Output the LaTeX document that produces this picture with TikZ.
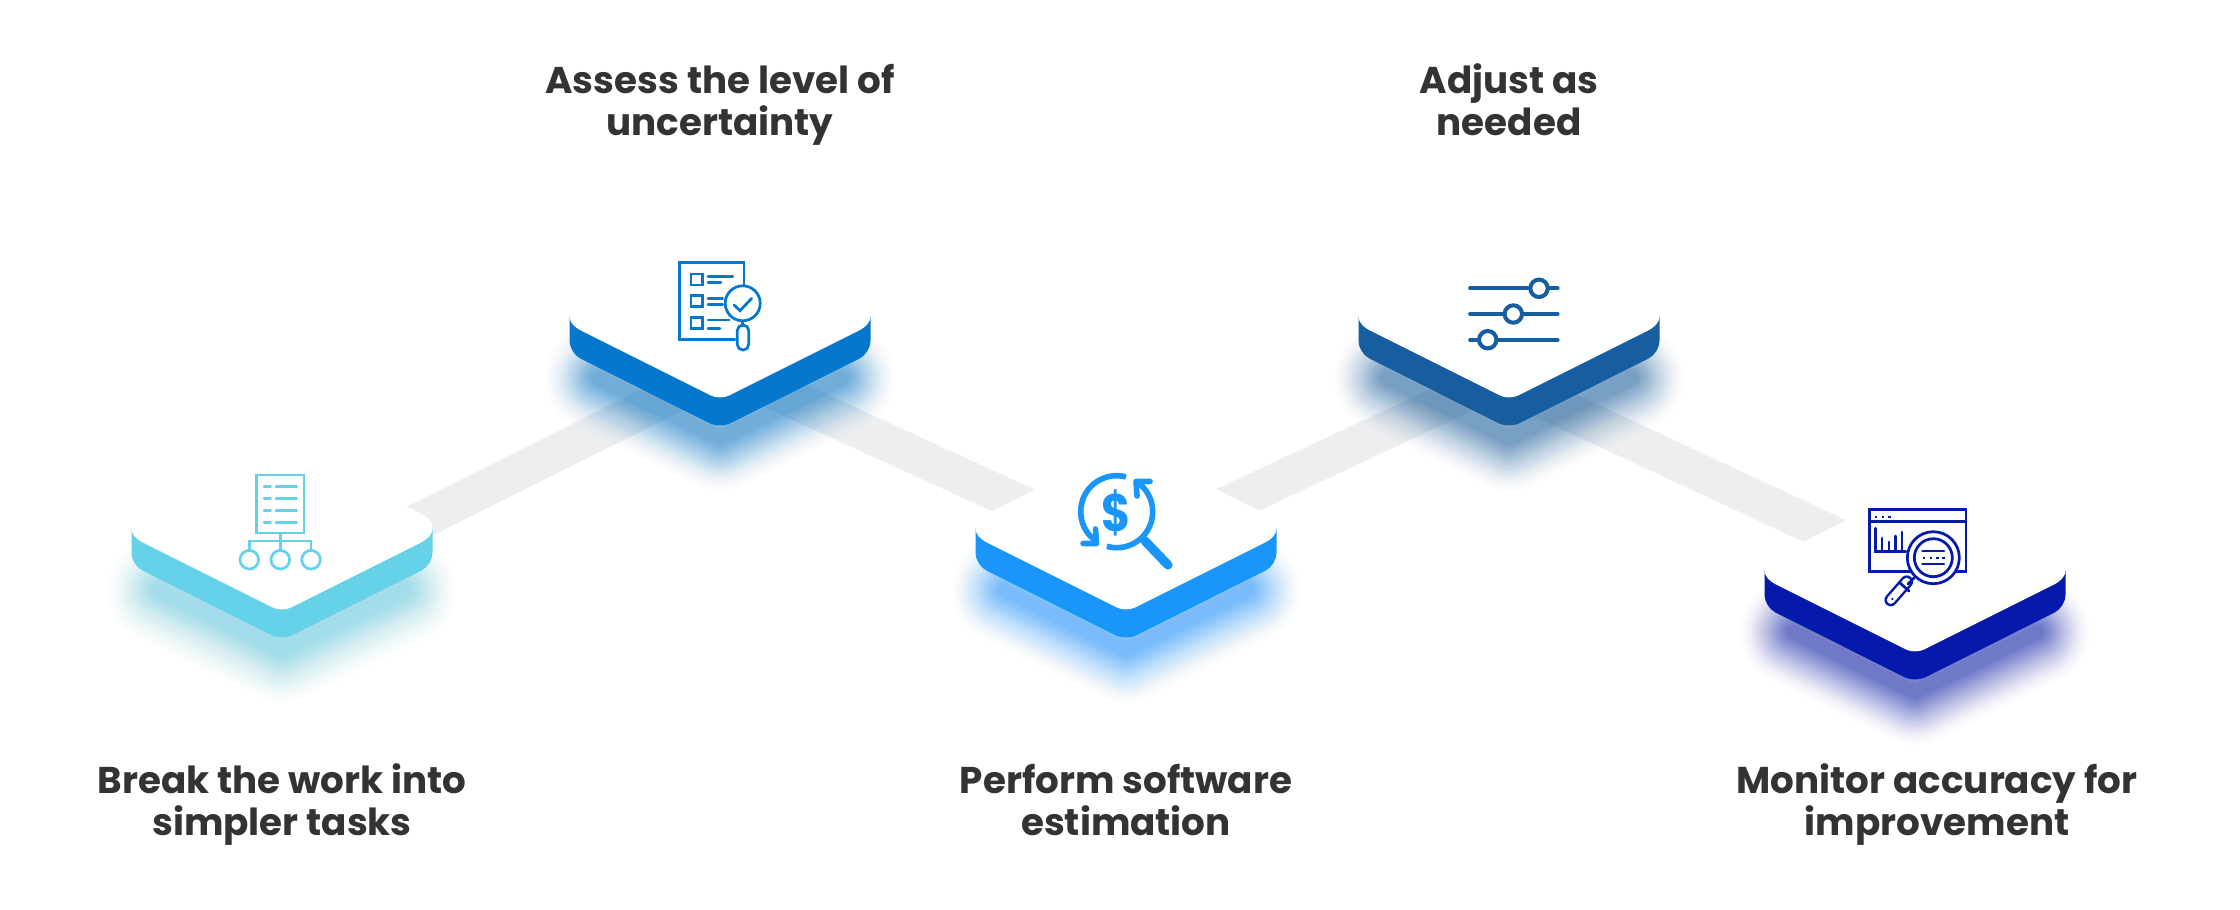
\documentclass[tikz,border=0pt]{standalone}
\usepackage{fontspec}
\setmainfont{Poppins}
\definecolor{roadgray}{HTML}{EDEEF0}
\definecolor{textdark}{HTML}{333333}
\definecolor{stepa}{HTML}{65D2EA}
\definecolor{stepb}{HTML}{0578CE}
\definecolor{stepc}{HTML}{1A95FA}
\definecolor{stepd}{HTML}{165EA0}
\definecolor{stepe}{HTML}{0519AB}
\tikzset{
  roadline/.style={draw=roadgray,line width=0.375cm},
  steplabel/.style={text=textdark,font=\fontsize{10.6}{11.9}\selectfont\bfseries,align=center,inner sep=0pt,anchor=base},
  iconline/.style={line width=0.78pt,line cap=round,line join=miter},
}
% one card: centre x, y of the inner tip, colour
\newcommand{\stepcard}[3]{
\begin{scope}[shift={(#1,#2)}]
\foreach \w in {14,18,...,106} {
  \pgfmathsetmacro{\a}{0.065*(1-\w/118)}
  \draw [#3,opacity=\a,line cap=round,line join=round,line width=\w*0.01cm] (-122,-20) -- (0,40) -- (122,-20);
}
\fill [#3] (-150.5,-82) [rounded corners=0.12cm] -- (-150.5,-45) -- (0,30.5) -- (150.5,-45) [sharp corners] -- (150.5,-82) -- cycle;
\fill [white] (-84,-40) [rounded corners=0.1cm] -- (0,2) [rounded corners=0.33cm] -- (168,-82) [rounded corners=0.1cm] -- (0,-166) [rounded corners=0.33cm] -- (-168,-82) -- cycle;
\end{scope}
}
\begin{document}
\begin{tikzpicture}[x=0.01cm,y=-0.01cm]
\fill [white] (0,0) rectangle (2240,909);
% roads
\coordinate (p1) at (282,590);
\coordinate (p2a) at (720,371);
\coordinate (p2b) at (720,366);
\coordinate (p3) at (1126,552);
\coordinate (p4a) at (1509,373);
\coordinate (p4b) at (1509,384);
\coordinate (p5) at (1915,573);
\draw [roadline] (p1) -- (p2a);
\draw [roadline] (p2b) -- (p3);
\draw [roadline] (p3) -- (p4a);
\draw [roadline] (p4b) -- (p5);
% cards
\stepcard{282}{610}{stepa}
\stepcard{720}{398}{stepb}
\stepcard{1126}{610}{stepc}
\stepcard{1509}{398}{stepd}
\stepcard{1915}{652}{stepe}
% icon 1
\draw [iconline,stepa] (256.7,475) rectangle (304,533);
\foreach \y in {486.3,498.3,510.3,522.3} {
  \draw [iconline,stepa] (264,\y) -- (270.7,\y);
  \draw [iconline,stepa] (276,\y) -- (296.7,\y);
}
\draw [iconline,stepa] (280.3,533) -- (280.3,550);
\draw [iconline,stepa] (249.3,550) -- (249.3,541) -- (311,541) -- (311,550);
\draw [iconline,stepa] (249.3,559.7) circle (9.3);
\draw [iconline,stepa] (280.3,559.7) circle (9.3);
\draw [iconline,stepa] (311,559.7) circle (9.3);
% icon 2
\draw [iconline,stepb] (744,285) -- (744,262.3) -- (679.3,262.3) -- (679.3,339.3) -- (735,339.3);
\draw [iconline,stepb] (691,274) rectangle (702.7,285);
\draw [iconline,stepb] (691,295.3) rectangle (702.7,306.7);
\draw [iconline,stepb] (691,317.3) rectangle (702.7,328.3);
\draw [iconline,stepb] (708,276.7) -- (732.7,276.7);
\draw [iconline,stepb] (708,282.7) -- (721,282.7);
\draw [iconline,stepb] (708,298.3) -- (722.7,298.3);
\draw [iconline,stepb] (708,304.7) -- (722.7,304.7);
\draw [iconline,stepb] (708,320) -- (729.3,320);
\draw [iconline,stepb] (708,328.7) -- (720,328.7);
\draw [iconline,stepb,fill=white] (742.7,303.3) circle (17.5);
\draw [iconline,stepb] (734,305) -- (740,310.7) -- (751.7,298.3);
\draw [iconline,stepb] (742.7,321) -- (742.7,326);
\draw [iconline,stepb,rounded corners=0.055cm] (737.3,325) rectangle (748.7,350);
% icon 3
\draw [stepc,line width=1.6pt] (1126,476.9) arc (-75:-232:36);
\draw [stepc,line width=1.6pt] (1106.8,546.3) arc (-254:-410:36);
\draw [stepc,line width=1.6pt,line cap=round,line join=round] (1083,543.5) -- (1096.5,543.5) -- (1095.5,529);
\draw [stepc,line width=1.6pt,line cap=round,line join=round] (1150,481.5) -- (1136,481.5) -- (1137,496);
\draw [stepc,line width=2.6pt,line cap=round] (1145,541) -- (1168,565);
\node (dollar) [stepc,font=\fontsize{15}{15}\selectfont\bfseries,inner sep=0pt,xscale=0.85] at (1116.7,512.5) {\$};
% icon 4
\draw [stepd,line width=1.05pt,line cap=round] (1470,288.3) -- (1557.7,288.3);
\draw [stepd,line width=1.05pt,line cap=round] (1470,314) -- (1557.7,314);
\draw [stepd,line width=1.05pt,line cap=round] (1470,339.7) -- (1557.7,339.7);
\draw [stepd,line width=1.15pt,fill=white] (1539,288.3) circle (8.7);
\draw [stepd,line width=1.15pt,fill=white] (1513.3,314) circle (8.7);
\draw [stepd,line width=1.15pt,fill=white] (1487.7,339.7) circle (8.7);
% icon 5
\draw [iconline,stepe] (1869.3,509.3) rectangle (1966,571.7);
\draw [iconline,stepe] (1869.3,521.7) -- (1966,521.7);
\foreach \x in {1876,1882.7,1889.3}
  \fill [stepe] (\x-1.2,515.5) rectangle (\x+1.2,517.9);
\draw [iconline,stepe] (1875.7,528.3) -- (1875.7,551.7) -- (1905.7,551.7);
\draw [iconline,stepe] (1882,551.7) -- (1882,538);
\draw [iconline,stepe] (1889,551.7) -- (1889,542);
\draw [iconline,stepe] (1895.5,551.7) -- (1895.5,536);
\draw [iconline,stepe] (1902,551.7) -- (1902,532);
\draw [iconline,stepe,fill=white] (1933.3,557.7) circle (26);
\draw [iconline,stepe] (1933.3,557.7) circle (19);
\draw [iconline,stepe] (1922.5,551) -- (1944,551);
\draw [iconline,stepe] (1922.5,564) -- (1944,564);
\foreach \x in {1924,1931,1937.5,1943.5}
  \fill [stepe] (\x-1.2,556.5) rectangle (\x+1.2,558.9);
\draw [stepe,line width=3.6pt,line cap=round] (1906.7,581.7) -- (1890.7,600);
\draw [white,line width=2.2pt,line cap=round] (1906.7,581.7) -- (1890.7,600);
\draw [iconline,stepe] (1914,578) -- (1908,584);
\draw [iconline,stepe] (1900,583) -- (1909,591);
\fill [stepe] (1892.3,599) circle (1.3);
% labels
\node (label1) [steplabel] at (282,835) {Break the work into\\simpler tasks};
\node (label2) [steplabel] at (720,135) {Assess the level of\\uncertainty};
\node (label3) [steplabel] at (1126,835) {Perform software\\estimation};
\node (label4) [steplabel] at (1509,135) {Adjust as\\needed};
\node (label5) [steplabel] at (1937,835) {Monitor accuracy for\\improvement};
\end{tikzpicture}
\end{document}
